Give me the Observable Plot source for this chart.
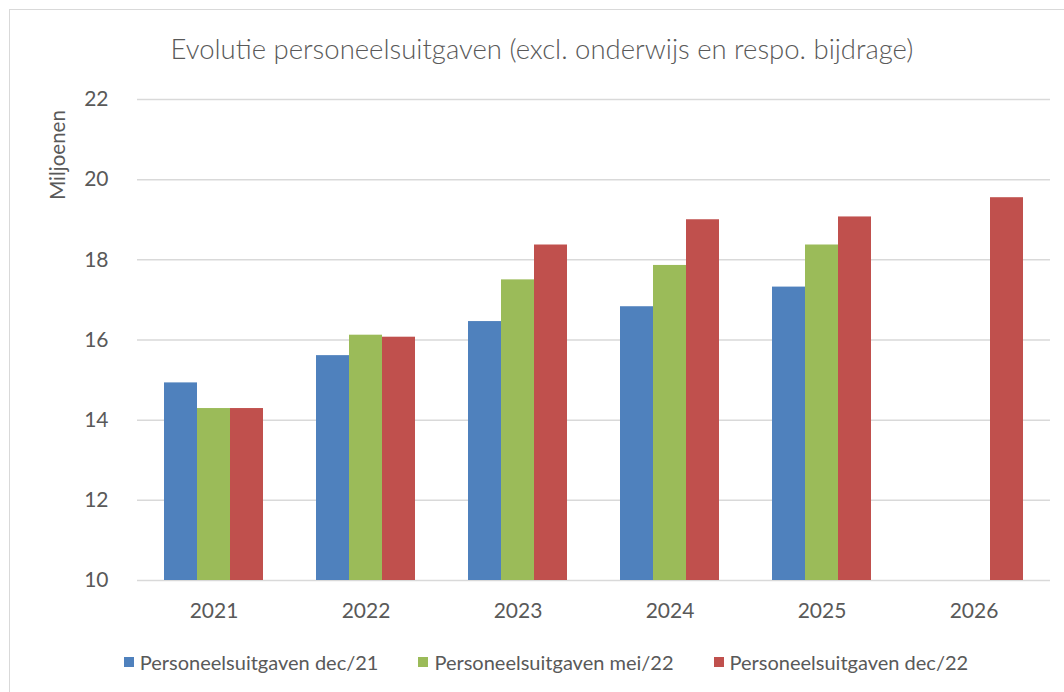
<!DOCTYPE html>
<html>
<head>
<meta charset="utf-8">
<script src="https://cdn.jsdelivr.net/npm/d3@7"></script>
<script src="https://cdn.jsdelivr.net/npm/@observablehq/plot@0.6"></script>
<style>
  html, body { margin: 0; padding: 0; background: #fff; }
  body { width: 1064px; height: 692px; position: relative; overflow: hidden; font-family: Lato, "Open Sans", sans-serif; color: #595959; }
  #frame { position: absolute; left: 9px; top: 9px; width: 1070px; height: 700px; border: 1.5px solid #d9d9d9; box-sizing: border-box; }
  #title { position: absolute; left: 0; top: 35px; width: 1084px; text-align: center; font-size: 27.5px; font-weight: 300; line-height: 1; white-space: nowrap; }
  #ylabel { position: absolute; left: 57px; top: 155px; transform: translate(-50%, -50%) rotate(-90deg); font-size: 20.5px; line-height: 1; white-space: nowrap; }
  .layer { position: absolute; left: 0; top: 80px; }
  #legend { position: absolute; left: 0; top: 651px; width: 1092px; display: flex; justify-content: center; gap: 40px; font-size: 20px; line-height: 1.1; white-space: nowrap; }
  .item { display: flex; align-items: center; gap: 6px; }
  .sw { width: 10px; height: 10px; display: inline-block; }
</style>
</head>
<body>
<div id="frame"></div>
<div id="title"></div>
<div id="ylabel"></div>
<div id="grid" class="layer"></div>
<div id="bars" class="layer"></div>
<div id="legend"></div>
<script>
// ---- data ----
const titleText = "Evolutie personeelsuitgaven (excl. onderwijs en respo. bijdrage)";
const yLabel = "Miljoenen";
const years = ["2021", "2022", "2023", "2024", "2025", "2026"];
const seriesNames = ["Personeelsuitgaven dec/21", "Personeelsuitgaven mei/22", "Personeelsuitgaven dec/22"];
const dec21 = [14.93, 15.61, 16.46, 16.83, 17.32, null];
const mei22 = [14.29, 16.12, 17.50, 17.86, 18.37, null];
const dec22 = [14.29, 16.07, 18.37, 19.00, 19.07, 19.55];
const colors = ["#4f81bd", "#9bbb59", "#c0504d"];
const yTicks = [10, 12, 14, 16, 18, 20, 22];
const yMin = 10, yMax = 22;

// ---- table ----
const rows = [];
[dec21, mei22, dec22].forEach((arr, si) => arr.forEach((v, i) => {
  if (v != null) rows.push({year: years[i], series: seriesNames[si], value: v});
}));

document.getElementById("title").textContent = titleText;
document.getElementById("ylabel").textContent = yLabel;

const common = {
  width: 1064,
  height: 540,
  marginTop: 19,
  marginBottom: 40,
  marginLeft: 137,
  marginRight: 14,
  style: {fontFamily: "Lato, 'Open Sans', sans-serif", fontSize: "21px", color: "#595959", background: "transparent", overflow: "visible"}
};

// background layer: gridlines + y axis
const gridChart = Plot.plot({
  ...common,
  x: {axis: null},
  y: {domain: [yMin, yMax], ticks: yTicks, tickSize: 0, tickPadding: 29, label: null},
  marks: [
    Plot.ruleY(yTicks, {stroke: "#d9d9d9", strokeWidth: 1.5})
  ]
});
document.getElementById("grid").appendChild(gridChart);

// foreground layer: grouped bars + category axis
const barChart = Plot.plot({
  ...common,
  fx: {domain: years, paddingInner: 0.335, paddingOuter: 0.1675, label: null, axis: "bottom", tickSize: 0, tickPadding: 23},
  x: {domain: seriesNames, padding: 0, axis: null},
  y: {domain: [yMin, yMax], axis: null},
  color: {domain: seriesNames, range: colors},
  marks: [
    Plot.barY(rows, {fx: "year", x: "series", y1: yMin, y2: "value", fill: "series"})
  ]
});
document.getElementById("bars").appendChild(barChart);

// legend
const legend = document.getElementById("legend");
seriesNames.forEach((name, i) => {
  const item = document.createElement("div");
  item.className = "item";
  const sw = document.createElement("span");
  sw.className = "sw";
  sw.style.background = colors[i];
  const t = document.createElement("span");
  t.textContent = name;
  item.appendChild(sw);
  item.appendChild(t);
  legend.appendChild(item);
});
</script>
</body>
</html>
